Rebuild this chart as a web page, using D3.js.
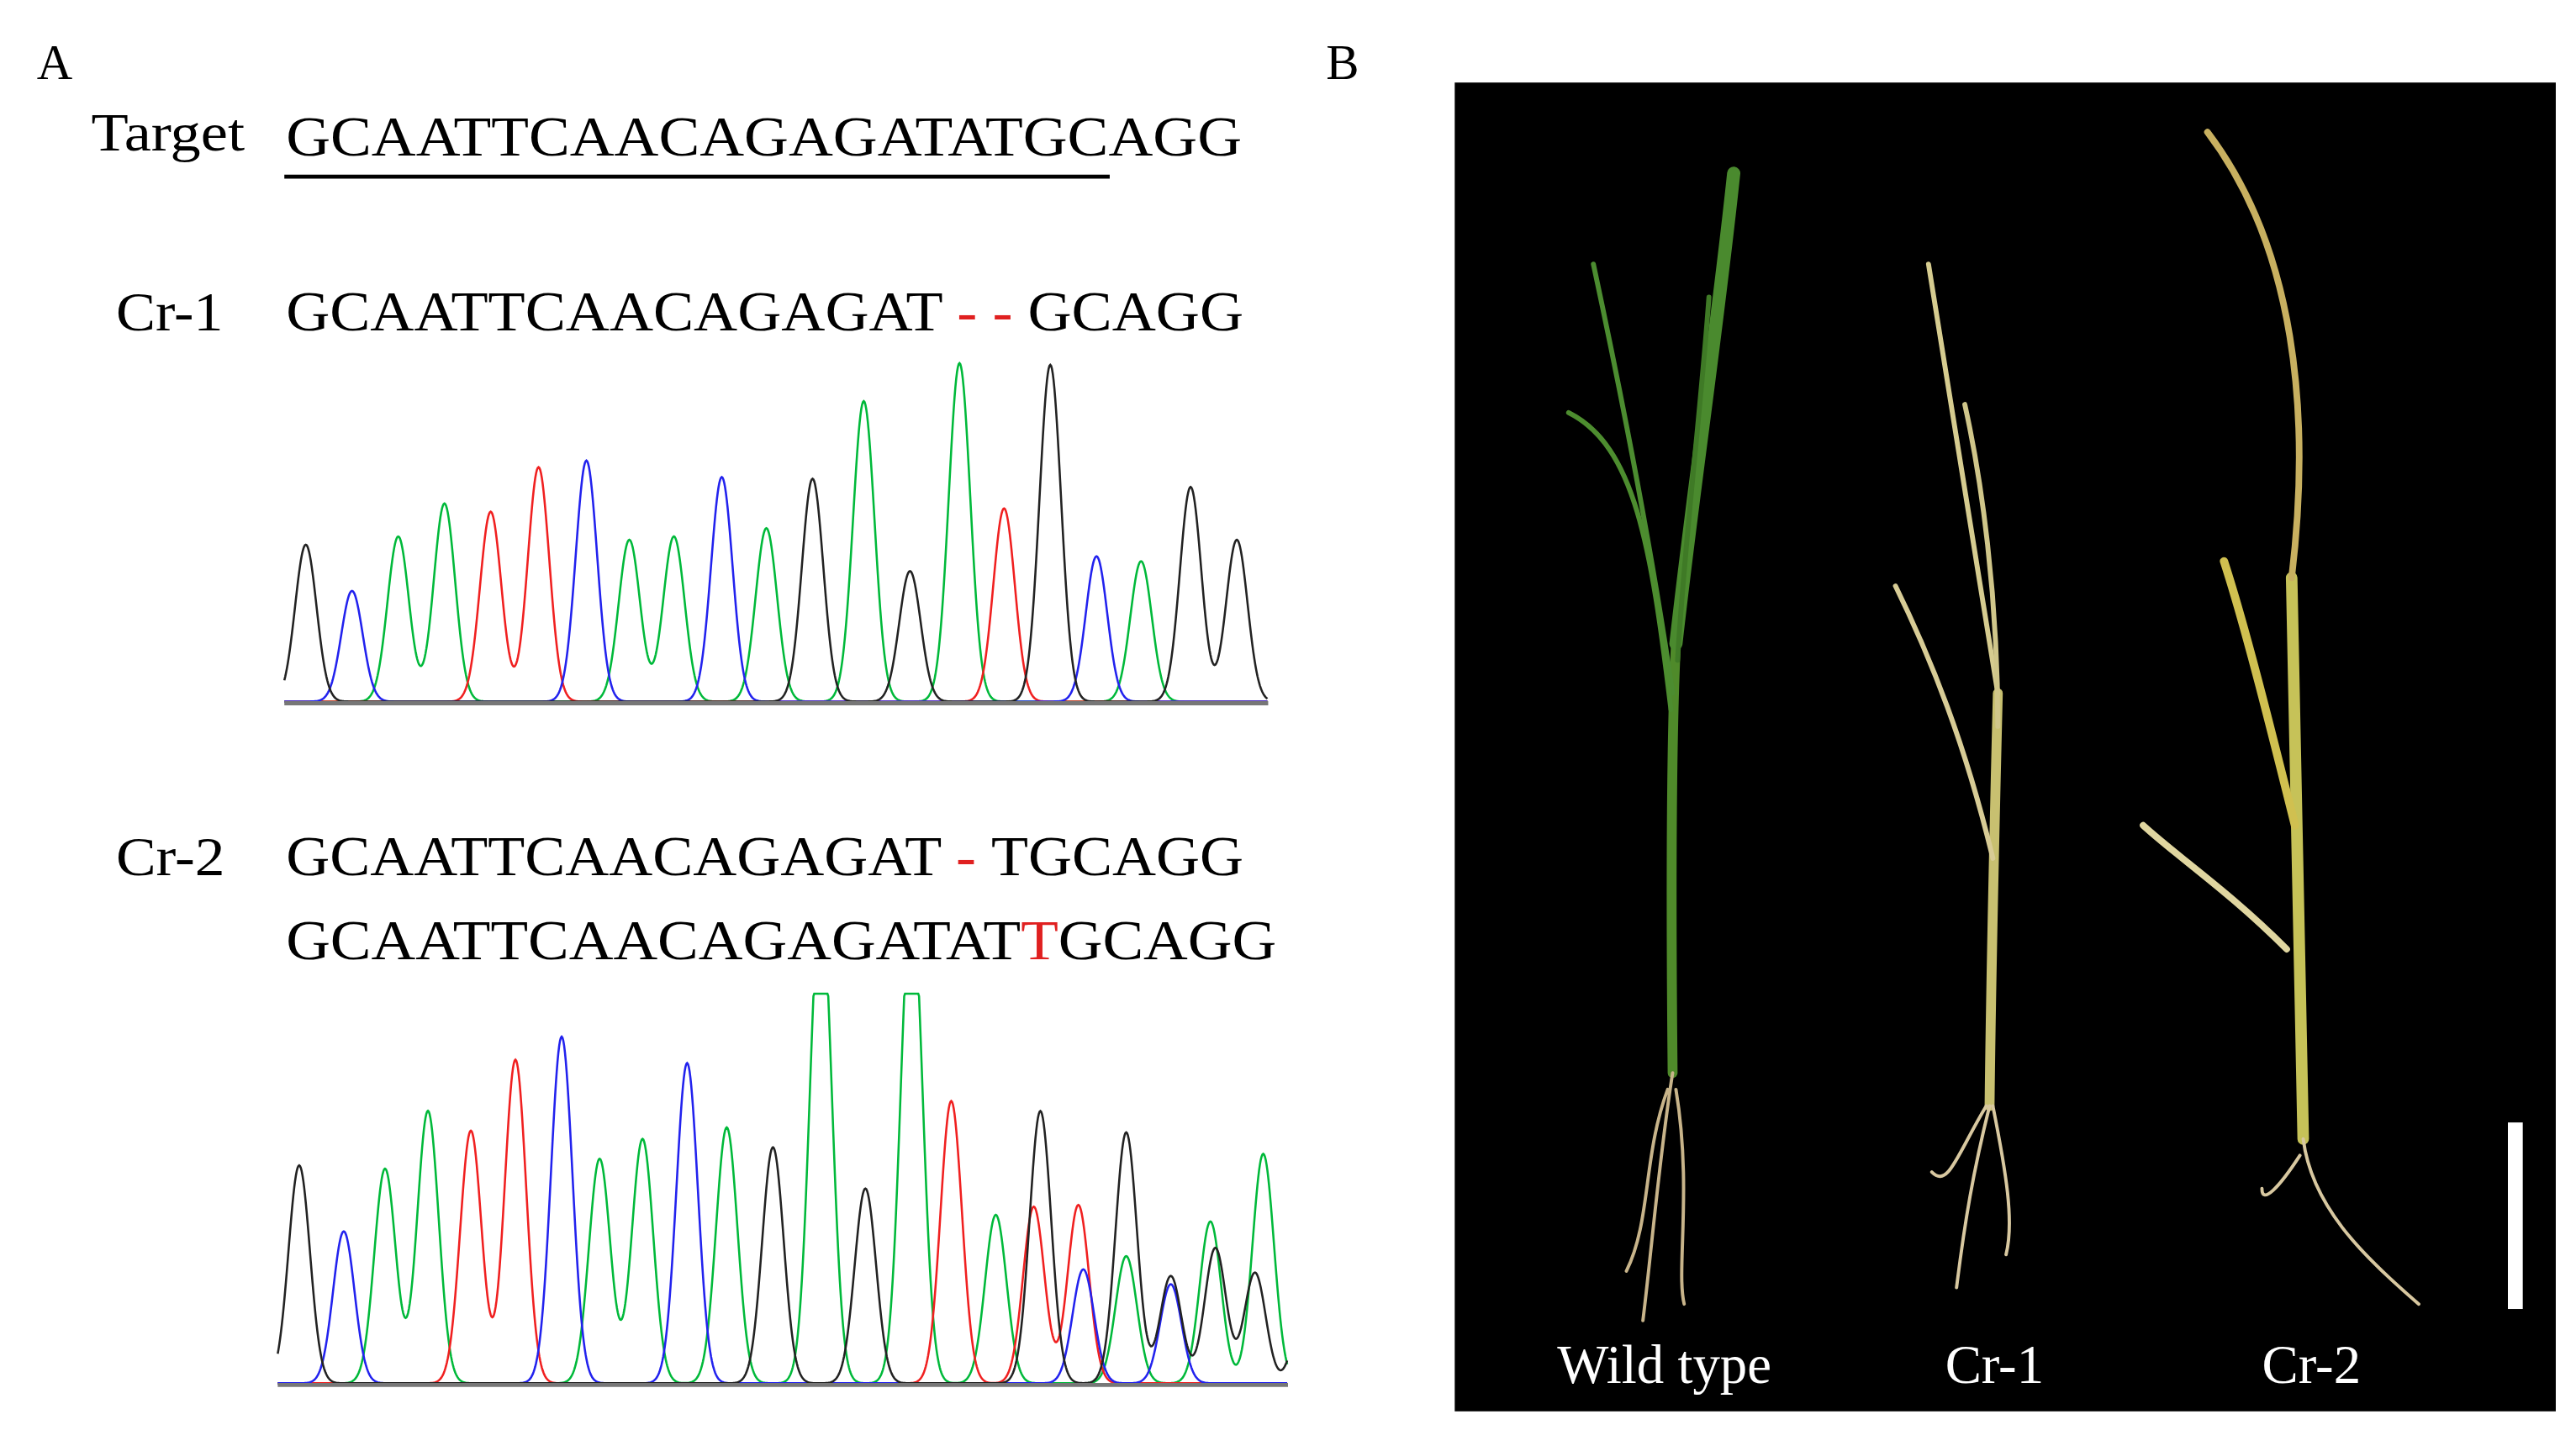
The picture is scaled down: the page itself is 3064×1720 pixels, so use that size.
<!DOCTYPE html>
<html><head><meta charset="utf-8">
<script src="https://cdn.jsdelivr.net/npm/d3@7"></script>
<style>html,body{margin:0;padding:0;background:#fff}</style>
</head><body>
<script>
// Peak data (position along trace, peak top y in panel units, base colour)
const seqTarget = "GCAATTCAACAGAGATATGCAGG";
const cr1Peaks = [
 [185,330,"k"],[213,358,"b"],[241,325,"g"],[269,305,"g"],[297,310,"r"],[326,283,"r"],
 [355,279,"b"],[381,327,"g"],[408,325,"g"],[437,289,"b"],[464,320,"g"],[492,290,"k"],
 [523,243,"g"],[551,346,"k"],[581,220,"g"],[608,308,"r"],[636,221,"k"],[664,337,"b"],
 [691,340,"g"],[721,295,"k"],[749,327,"k"]];
const cr2Peaks = [
 [181,706,"k"],[208,746,"b"],[233,708,"g"],[259,673,"g"],[285,685,"r"],[312,642,"r"],
 [340,628,"b"],[363,702,"g"],[389,690,"g"],[416,644,"b"],[440,683,"g"],[468,695,"k"],
 [497,540,"g"],[524,720,"k"],[552,540,"g"],[576,667,"r"],[603,736,"g"],[626,731,"r"],
 [630,673,"k"],[653,730,"r"],[656,769,"b"],[682,686,"k"],[682,761,"g"],[709,778,"b"],
 [709,773,"k"],[733,740,"g"],[736,756,"k"],[765,699,"g"],[760,771,"k"],[790,790,"k"]];
const plantLabels = ["Wild type","Cr-1","Cr-2"];
const colors = {k:"#222",b:"#2222ee",g:"#00b93a",r:"#f02020"};

const W=1560,H=876;
const svg=d3.select("body").append("svg").attr("width",3064).attr("height",1720)
  .attr("viewBox",`0 0 ${W} ${H}`);
const serif="Liberation Serif, Times New Roman, serif";

function T(x,y,s,size,fill="#000",anchor="start"){
  return svg.append("text").attr("x",x).attr("y",y).attr("font-family",serif)
   .attr("font-size",size).attr("fill",fill).attr("text-anchor",anchor).text(s);}
function fit(t,len){return t.attr("textLength",len).attr("lengthAdjust","spacingAndGlyphs");}

T(22,48,"A",30); T(803,48,"B",30);
fit(T(55,91,"Target",32),93);
fit(T(173,94,seqTarget,34),579);
svg.append("line").attr("x1",172).attr("x2",672).attr("y1",107).attr("y2",107).attr("stroke","#000").attr("stroke-width",2.5);

fit(T(70,200,"Cr-1",33),65);
let t=fit(T(173,200,"",34),580);
t.append("tspan").text("GCAATTCAACAGAGAT ");
t.append("tspan").attr("fill","#e02020").text("- - ");
t.append("tspan").text("GCAGG");
fit(T(70,530,"Cr-2",33),66);
t=fit(T(173,530,"",34),580);
t.append("tspan").text("GCAATTCAACAGAGAT ");
t.append("tspan").attr("fill","#e02020").text("- ");
t.append("tspan").text("TGCAGG");
t=fit(T(173,581,"",34),600);
t.append("tspan").text("GCAATTCAACAGAGATAT");
t.append("tspan").attr("fill","#e02020").text("T");
t.append("tspan").text("GCAGG");

function trace(peaks,x0,x1,base,sigma,clipTop){
  const x=d3.scaleLinear().domain([x0,x1]).range([x0,x1]);
  const y=d3.scaleLinear().domain([0,1]).range([base,base-1]);
  const g=svg.append("g");
  for(const c of ["g","r","b","k"]){
    const ps=peaks.filter(p=>p[2]===c);
    const pts=d3.range(x0,x1,0.5).map(xx=>{
      let h=0; for(const p of ps){h+=(base-p[1])*Math.exp(-((xx-p[0])**2)/(2*sigma*sigma));}
      if(clipTop!==undefined) h=Math.min(h,base-clipTop);
      return [xx,h];});
    g.append("path").datum(pts).attr("fill","none").attr("stroke",colors[c]).attr("stroke-width",1.3)
     .attr("d",d3.line().x(d=>x(d[0])).y(d=>y(d[1])));
  }
  g.append("line").attr("x1",x0).attr("x2",x1).attr("y1",base+1).attr("y2",base+1)
   .attr("stroke","#777").attr("stroke-width",2.5);
}
trace(cr1Peaks,172,768,425,6.5);
trace(cr2Peaks,168,780,838,6.5,602);

// Panel B photo area
svg.append("rect").attr("x",881).attr("y",50).attr("width",667).attr("height",805).attr("fill","#000");
const pg=svg.append("g").attr("fill","none").attr("stroke-linecap","round");
function P(d,c,w){pg.append("path").attr("d",d).attr("stroke",c).attr("stroke-width",w);}
// wild type
P("M1013,650 C1012,550 1012,450 1015,390","#4f8a2a",6);
P("M1015,390 C1025,300 1040,200 1050,105","#4a8a2e",8);
P("M1013,420 C1000,330 980,230 965,160","#4c8c30",3);
P("M1012,430 C1000,330 990,270 950,250","#4d8d2f",3);
P("M1016,400 C1020,330 1030,250 1035,180","#3f7a26",3);
P("M1013,650 C1005,700 1000,760 995,800 M1015,660 C1025,720 1015,770 1020,790 M1010,660 C995,700 1000,740 985,770","#c8b48a",2);
// Cr-1
P("M1205,670 C1206,580 1208,500 1210,420","#c8c070",6);
P("M1210,420 C1195,330 1180,230 1168,160","#d6cc90",3);
P("M1210,440 C1210,360 1200,290 1190,245","#d0c68a",3);
P("M1207,520 C1190,450 1170,400 1148,355","#d8cc96",3);
P("M1205,670 C1195,710 1190,740 1185,780 M1207,670 C1215,710 1220,740 1215,760 M1203,670 C1185,700 1180,720 1170,710","#d8c8a0",2);
// Cr-2
P("M1395,690 C1393,580 1390,480 1388,350","#c6c258",7);
P("M1388,350 C1400,250 1390,150 1337,80","#c8b060",4);
P("M1390,500 C1375,440 1360,380 1347,340","#d0c050",5);
P("M1385,575 C1350,540 1320,520 1298,500","#e0d6a0",4);
P("M1395,690 C1400,730 1430,760 1465,790 M1393,700 C1380,720 1370,730 1370,720","#d8c8a0",2);

const lx=[1008,1208,1400];
plantLabels.forEach((s,i)=>T(lx[i],838,s,33,"#fff","middle"));
svg.append("rect").attr("x",1519).attr("y",680).attr("width",9).attr("height",113).attr("fill","#fff");
</script>
</body></html>
